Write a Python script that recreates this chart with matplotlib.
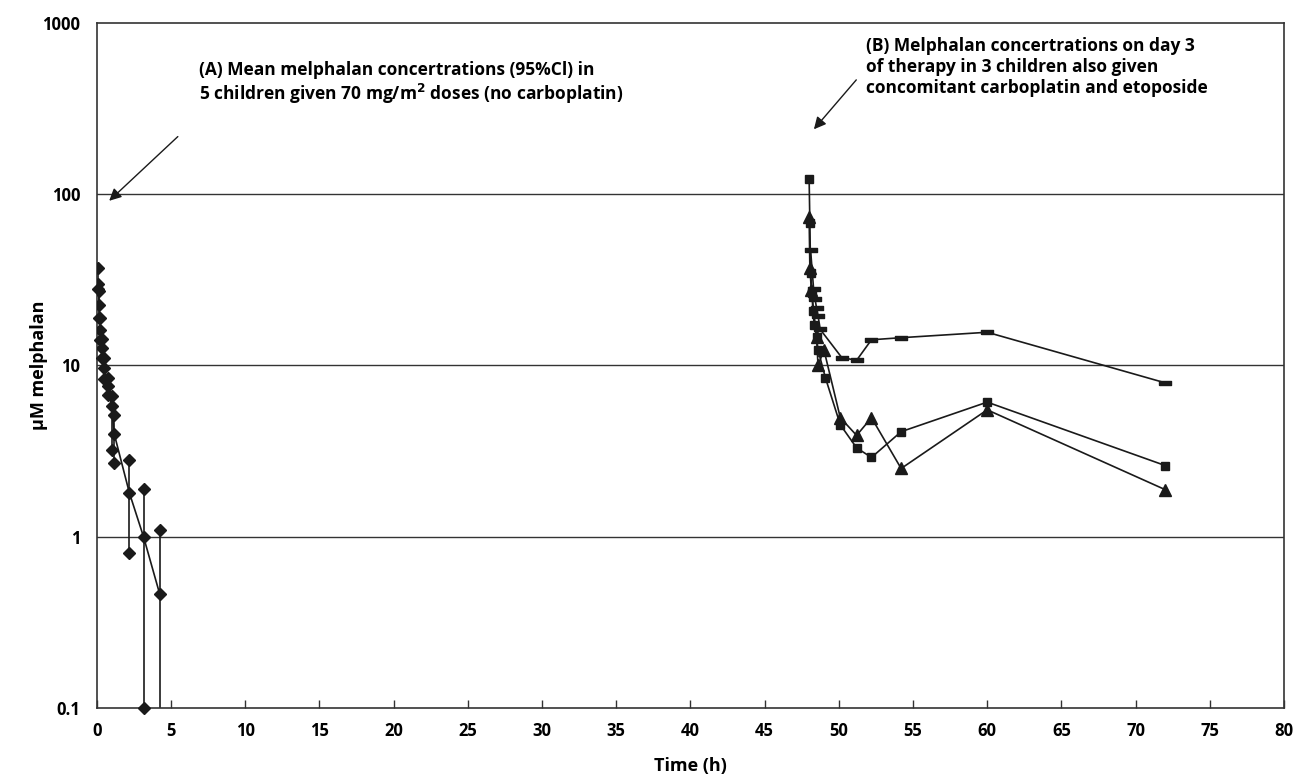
import matplotlib
matplotlib.use("Agg")
import matplotlib.pyplot as plt

plt.rcParams['font.family'] = ['Open Sans', 'DejaVu Sans']

# (A) mean melphalan with 95% CI, no carboplatin
t_a = [0.08, 0.17, 0.25, 0.33, 0.5, 0.75, 1.0, 1.17, 2.2, 3.15, 4.25]
mean_a = [30, 22.6, 16, 12.7, 9.6, 7.6, 5.8, 4.0, 1.8, 1.0, 0.46]
upper_a = [37, 27, 18.8, 14.3, 11, 8.4, 6.6, 5.1, 2.8, 1.9, 1.1]
lower_a = [28, 19, 14, 11, 8.3, 6.7, 3.2, 2.7, 0.8, 0.1, 0.01]

# (B) day 3, three children with carboplatin + etoposide
t_b1 = [48.0, 48.05, 48.1, 48.2, 48.25, 48.35, 48.5, 48.6, 49.1, 50.1, 51.2, 52.2, 54.2, 60.0, 72.0]
c_b1 = [123, 68, 34.6, 26.5, 20.8, 17.2, 14.7, 12.3, 8.45, 4.5, 3.3, 2.9, 4.1, 6.1, 2.6]
t_b2 = [48.0, 48.05, 48.15, 48.5, 48.6, 49.0, 50.1, 51.2, 52.2, 54.2, 60.0, 72.0]
c_b2 = [73.8, 37, 27.7, 14.7, 10.0, 12.3, 4.95, 3.9, 4.95, 2.5, 5.5, 1.88]
t_b3 = [48.1, 48.3, 48.4, 48.5, 48.6, 48.75, 50.2, 51.2, 52.2, 54.2, 60.0, 72.0]
c_b3 = [47, 28, 24.4, 21.6, 19.5, 16.2, 11.1, 10.7, 14.1, 14.5, 15.6, 7.9]

xticks = list(range(0, 81, 5))
yticks = [0.1, 1, 10, 100, 1000]
ylabels = ['0.1', '1', '10', '100', '1000']

fig = plt.figure(figsize=(12.97, 7.77), dpi=100)
ax = fig.add_axes([0.0746, 0.0888, 0.9154, 0.882])
ax.set_yscale('log')
ax.set_xlim(0, 80)
ax.set_ylim(0.1, 1000)

# gridlines at decades
for g in [1, 10, 100]:
    ax.axhline(g, color='#333333', lw=1.0, zorder=1)

col = '#1a1a1a'
# error bars for (A)
ax.vlines(t_a, [max(v, 0.05) for v in lower_a], upper_a, color=col, lw=1.2, zorder=2)
ax.plot(t_a, upper_a, 'D', color=col, ms=6, ls='none', zorder=3)
ax.plot([t for t, v in zip(t_a, lower_a) if v >= 0.1],
        [v for v in lower_a if v >= 0.1], 'D', color=col, ms=6, ls='none',
        zorder=3, clip_on=False)
ax.plot(t_a, mean_a, '-D', color=col, ms=6, lw=1.2, zorder=3)

# (B) curves
rect = [(-1, -0.4), (1, -0.4), (1, 0.4), (-1, 0.4), (-1, -0.4)]
ax.plot(t_b1, c_b1, '-s', color=col, ms=6, lw=1.2, zorder=3)
ax.plot(t_b2, c_b2, '-^', color=col, ms=8, lw=1.2, zorder=3)
ax.plot(t_b3, c_b3, '-', marker=rect, color=col, ms=8, lw=1.2, zorder=3)

ax.set_xticks(xticks)
ax.set_xticklabels([str(x) for x in xticks], fontsize=12, fontweight='bold')
ax.set_yticks(yticks)
ax.set_yticklabels(ylabels, fontsize=12, fontweight='bold')
ax.minorticks_off()
ax.tick_params(axis='x', direction='in', length=6, width=1, pad=10, color='#333333')
ax.tick_params(axis='y', length=0, pad=12)
for s in ax.spines.values():
    s.set_color('#333333')
    s.set_linewidth(1.2)

ax.set_xlabel('Time (h)', fontsize=13, fontweight='bold', labelpad=12)
ax.set_ylabel('μM melphalan', fontsize=13, fontweight='bold', labelpad=-4)

ax.annotate('', xy=(0.7, 89), xytext=(5.6, 222),
            arrowprops=dict(arrowstyle='-|>', color=col, lw=1, mutation_scale=18))
ax.text(6.9, 600, '(A) Mean melphalan concertrations (95%Cl) in\n'
        '5 children given 70 mg/m$^\\mathbf{2}$ doses (no carboplatin)',
        fontsize=12.5, fontweight='bold', va='top', ha='left', linespacing=1.2)
ax.annotate('', xy=(48.2, 232), xytext=(51.3, 477),
            arrowprops=dict(arrowstyle='-|>', color=col, lw=1, mutation_scale=18))
ax.text(51.8, 820, '(B) Melphalan concertrations on day 3\n'
        'of therapy in 3 children also given\n'
        'concomitant carboplatin and etoposide',
        fontsize=12.5, fontweight='bold', va='top', ha='left', linespacing=1.2)

fig.savefig('out.png', dpi=100)
